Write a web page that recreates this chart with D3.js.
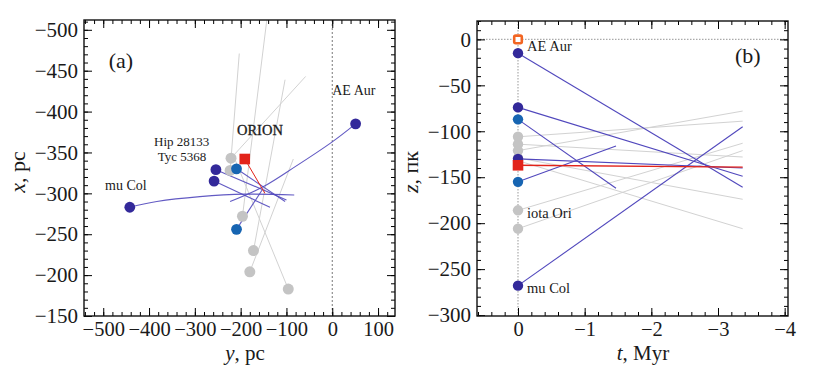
<!DOCTYPE html>
<html>
<head>
<meta charset="utf-8">
<script src="https://d3js.org/d3.v7.min.js"></script>
<style>
  body { margin: 0; background: #fff; }
  text { font-family: "Liberation Serif", "Times New Roman", serif; fill: #1a1a1a; }
</style>
</head>
<body>
<script>
var width = 817, height = 378;

// ---------- panel (a): (y, x) plane, pc; first point of a track = star now ----------
var aGrayTracks = [
  [[-221, -343], [-58, -443]],
  [[-223, -328], [-203, -471]],
  [[-196, -272], [-140, -525]],
  [[-172, -230], [-103, -439]],
  [[-180, -204], [-85, -342]],
  [[-96, -183], [-215, -345]]
];
var aDarkTracks = [
  [[-442, -283], [-383, -290], [-289, -296], [-190, -299], [-83, -298]],   // mu Col
  [[51, -385], [0, -363], [-80, -333], [-151, -308], [-223, -290]],       // AE Aur
  [[-254, -329], [-100, -292]],
  [[-258, -315], [-136, -283]]
];
var aBlueTracks = [
  [[-209, -330], [-103, -290]],
  [[-209, -256], [-151, -306]]
];
var aRedTrack = [[-191, -342], [-147, -300]];   // ORION

// ---------- panel (b): z (pc) against t (Myr) ----------
var bTLong = -3.37, bTShort = -1.47;
var bGrayZ0 = [-106, -114, -121, -129, -132, -186, -206];
var bGrayZ1 = [-89, -128, -78, -174, -206, -113, -121];
var bDarkZ0 = [-15, -74, -130, -268];
var bDarkZ1 = [-161, -149, -140, -95];
var bBlueZ0 = [-87, -155];
var bBlueZ1 = [-162, -116];
var bRedZ = [-137, -139];
var bAeAurZ = 0;

var cGray = "#c4c4c4", cDark = "#33299a", cBlue = "#1765b2", cRed = "#e2231a",
    cOrange = "#f26522", cDarkLine = "#5148bd", cGrayLine = "#d2d2d2";

var svg = d3.select("body").append("svg")
  .attr("width", width).attr("height", height);

// frame with inward ticks on all four sides
function frameAxes(g, x, y, xMajor, xMinor, yMajor, yMinor) {
  var xr = x.range(), yr = y.range();
  var fmt = d3.format("d");
  g.append("g").attr("transform", "translate(0," + yr[1] + ")")
    .call(d3.axisBottom(x).tickValues(xMinor).tickSize(-4).tickFormat(""));
  g.append("g").attr("transform", "translate(0," + yr[1] + ")")
    .call(d3.axisBottom(x).tickValues(xMajor).tickSize(-8).tickPadding(5).tickFormat(fmt))
    .attr("font-size", 20.5);
  g.append("g").attr("transform", "translate(0," + yr[0] + ")")
    .call(d3.axisTop(x).tickValues(xMinor).tickSize(-4).tickFormat(""));
  g.append("g").attr("transform", "translate(0," + yr[0] + ")")
    .call(d3.axisTop(x).tickValues(xMajor).tickSize(-8).tickFormat(""));
  g.append("g").attr("transform", "translate(" + xr[0] + ",0)")
    .call(d3.axisLeft(y).tickValues(yMinor).tickSize(-4).tickFormat(""));
  g.append("g").attr("transform", "translate(" + xr[0] + ",0)")
    .call(d3.axisLeft(y).tickValues(yMajor).tickSize(-8).tickPadding(6).tickFormat(fmt))
    .attr("font-size", 21);
  g.append("g").attr("transform", "translate(" + xr[1] + ",0)")
    .call(d3.axisRight(y).tickValues(yMinor).tickSize(-4).tickFormat(""));
  g.append("g").attr("transform", "translate(" + xr[1] + ",0)")
    .call(d3.axisRight(y).tickValues(yMajor).tickSize(-8).tickFormat(""));
  g.selectAll(".domain").remove();
  g.append("rect")
    .attr("x", xr[0]).attr("y", yr[0])
    .attr("width", xr[1] - xr[0]).attr("height", yr[1] - yr[0])
    .attr("fill", "none").attr("stroke", "#111").attr("stroke-width", 1.4);
}

function inDomain(s) {
  var d = s.domain(), lo = Math.min(d[0], d[1]), hi = Math.max(d[0], d[1]);
  return function(v) { return v >= lo - 1e-9 && v <= hi + 1e-9; };
}

// ================= panel (a) =================
var xA = d3.scaleLinear().domain([-542, 137]).range([84, 395]);
var yA = d3.scaleLinear().domain([-512, -150]).range([20, 316]);

svg.append("clipPath").attr("id", "clipA").append("rect")
  .attr("x", 84).attr("y", 20).attr("width", 311).attr("height", 296);

var gA = svg.append("g");
var plotA = gA.append("g").attr("clip-path", "url(#clipA)");

plotA.append("line")
  .attr("x1", xA(0)).attr("x2", xA(0)).attr("y1", yA(-512)).attr("y2", yA(-150))
  .attr("stroke", "#555").attr("stroke-width", 0.8).attr("stroke-dasharray", "2,2");

var lineA = d3.line().x(function(d) { return xA(d[0]); }).y(function(d) { return yA(d[1]); })
  .curve(d3.curveCatmullRom);

plotA.selectAll(".gtrack").data(aGrayTracks).enter().append("path")
  .attr("d", lineA).attr("fill", "none").attr("stroke", cGrayLine).attr("stroke-width", 1);
plotA.selectAll(".dtrack").data(aDarkTracks.concat(aBlueTracks)).enter().append("path")
  .attr("d", lineA).attr("fill", "none").attr("stroke", cDarkLine).attr("stroke-width", 1.1)
  .attr("stroke-opacity", 0.9);
plotA.append("path").attr("d", lineA(aRedTrack))
  .attr("fill", "none").attr("stroke", cRed).attr("stroke-width", 1);

plotA.selectAll(".gdot").data(aGrayTracks).enter().append("circle")
  .attr("cx", function(d) { return xA(d[0][0]); }).attr("cy", function(d) { return yA(d[0][1]); })
  .attr("r", 5.5).attr("fill", cGray);
plotA.selectAll(".ddot").data(aDarkTracks).enter().append("circle")
  .attr("cx", function(d) { return xA(d[0][0]); }).attr("cy", function(d) { return yA(d[0][1]); })
  .attr("r", 5.4).attr("fill", cDark);
plotA.selectAll(".bdot").data(aBlueTracks).enter().append("circle")
  .attr("cx", function(d) { return xA(d[0][0]); }).attr("cy", function(d) { return yA(d[0][1]); })
  .attr("r", 5.4).attr("fill", cBlue);
plotA.append("rect")
  .attr("x", xA(aRedTrack[0][0]) - 5.3).attr("y", yA(aRedTrack[0][1]) - 5.3)
  .attr("width", 10.6).attr("height", 10.6).attr("fill", cRed);

frameAxes(gA, xA, yA,
  d3.range(-500, 101, 100),
  d3.range(-540, 137, 20).filter(inDomain(xA)),
  d3.range(-500, -149, 50),
  d3.range(-510, -149, 10));

gA.append("text").attr("x", xA(-488)).attr("y", 68).attr("font-size", 22).text("(a)");
gA.append("text").attr("x", xA(0)).attr("y", 95).attr("font-size", 14).text("AE Aur");
gA.append("text").attr("x", xA(-208)).attr("y", 135).attr("font-size", 14.5)
  .attr("stroke", "#1a1a1a").attr("stroke-width", 0.3).text("ORION");
gA.append("text").attr("x", xA(-389)).attr("y", 145.5).attr("font-size", 13).text("Hip 28133");
gA.append("text").attr("x", xA(-381)).attr("y", 160.5).attr("font-size", 13).text("Tyc 5368");
gA.append("text").attr("x", xA(-496)).attr("y", 190).attr("font-size", 14).text("mu Col");

var tyA = gA.append("text").attr("transform", "translate(25,172) rotate(-90)")
  .attr("text-anchor", "middle").attr("font-size", 22);
tyA.append("tspan").attr("font-style", "italic").text("x");
tyA.append("tspan").text(", pc");
var txA = gA.append("text").attr("x", 245).attr("y", 360)
  .attr("text-anchor", "middle").attr("font-size", 21);
txA.append("tspan").attr("font-style", "italic").text("y");
txA.append("tspan").text(", pc");

// ================= panel (b) =================
var xB = d3.scaleLinear().domain([0.615, -4.05]).range([477, 788]);
var yB = d3.scaleLinear().domain([20, -301]).range([21, 316]);

var gB = svg.append("g");

gB.append("line")
  .attr("x1", xB(0.615)).attr("x2", xB(-4.05)).attr("y1", yB(0)).attr("y2", yB(0))
  .attr("stroke", "#aaa").attr("stroke-width", 1.2).attr("stroke-dasharray", "1.5,1.5");
gB.append("line")
  .attr("x1", xB(0)).attr("x2", xB(0)).attr("y1", yB(20)).attr("y2", yB(-301))
  .attr("stroke", "#aaa").attr("stroke-width", 1.2).attr("stroke-dasharray", "1.5,1.5");

gB.selectAll(".gl").data(bGrayZ0).enter().append("line")
  .attr("x1", xB(0)).attr("x2", xB(bTLong))
  .attr("y1", function(d) { return yB(d); })
  .attr("y2", function(d, i) { return yB(bGrayZ1[i]); })
  .attr("stroke", cGrayLine).attr("stroke-width", 1);
gB.selectAll(".dl").data(bDarkZ0).enter().append("line")
  .attr("x1", xB(0)).attr("x2", xB(bTLong))
  .attr("y1", function(d) { return yB(d); })
  .attr("y2", function(d, i) { return yB(bDarkZ1[i]); })
  .attr("stroke", cDarkLine).attr("stroke-width", 1.1);
gB.selectAll(".bl").data(bBlueZ0).enter().append("line")
  .attr("x1", xB(0)).attr("x2", xB(bTShort))
  .attr("y1", function(d) { return yB(d); })
  .attr("y2", function(d, i) { return yB(bBlueZ1[i]); })
  .attr("stroke", cDarkLine).attr("stroke-width", 1.1);
gB.append("line")
  .attr("x1", xB(0)).attr("x2", xB(bTLong)).attr("y1", yB(bRedZ[0])).attr("y2", yB(bRedZ[1]))
  .attr("stroke", cRed).attr("stroke-width", 1.4);

gB.selectAll(".gd").data(bGrayZ0).enter().append("circle")
  .attr("cx", xB(0)).attr("cy", function(d) { return yB(d); }).attr("r", 5.2).attr("fill", cGray);
gB.selectAll(".dd").data(bDarkZ0).enter().append("circle")
  .attr("cx", xB(0)).attr("cy", function(d) { return yB(d); }).attr("r", 5.2).attr("fill", cDark);
gB.selectAll(".bd").data(bBlueZ0).enter().append("circle")
  .attr("cx", xB(0)).attr("cy", function(d) { return yB(d); }).attr("r", 5.2).attr("fill", cBlue);
gB.append("rect")
  .attr("x", xB(0) - 5.3).attr("y", yB(bRedZ[0]) - 5.3)
  .attr("width", 10.6).attr("height", 10.6).attr("fill", cRed);
gB.append("rect")
  .attr("x", xB(0) - 3.8).attr("y", yB(bAeAurZ) - 3.8)
  .attr("width", 7.6).attr("height", 7.6).attr("rx", 1.5)
  .attr("fill", "#fff").attr("stroke", cOrange).attr("stroke-width", 2.6);

frameAxes(gB, xB, yB,
  d3.range(0, -4.01, -1),
  d3.range(0.6, -4.05, -0.2).filter(inDomain(xB)),
  d3.range(0, -301, -50),
  d3.range(20, -301, -10));

gB.append("text").attr("x", xB(0) + 9).attr("y", 51).attr("font-size", 14.5).text("AE Aur");
gB.append("text").attr("x", xB(0) + 9).attr("y", yB(-186) + 8).attr("font-size", 14.5).text("iota Ori");
gB.append("text").attr("x", xB(0) + 9).attr("y", yB(-268) + 7).attr("font-size", 14.5).text("mu Col");
gB.append("text").attr("x", 735).attr("y", 63).attr("font-size", 22).text("(b)");

var tyB = gB.append("text").attr("transform", "translate(418,172) rotate(-90)")
  .attr("text-anchor", "middle").attr("font-size", 22);
tyB.append("tspan").attr("font-style", "italic").text("z");
tyB.append("tspan").text(", пк");
var txB = gB.append("text").attr("x", 643).attr("y", 360)
  .attr("text-anchor", "middle").attr("font-size", 21);
txB.append("tspan").attr("font-style", "italic").text("t");
txB.append("tspan").text(", Myr");
</script>
</body>
</html>
